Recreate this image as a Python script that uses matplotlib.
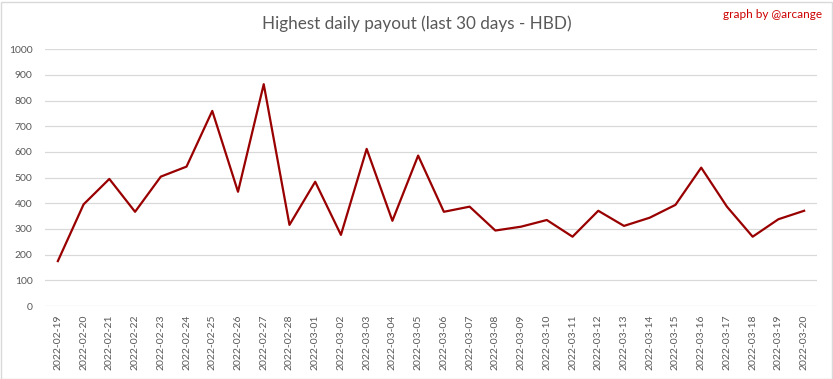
import matplotlib.pyplot as plt
import matplotlib.patches as patches

dates = ['2022-02-19', '2022-02-20', '2022-02-21', '2022-02-22', '2022-02-23', '2022-02-24',
         '2022-02-25', '2022-02-26', '2022-02-27', '2022-02-28', '2022-03-01', '2022-03-02',
         '2022-03-03', '2022-03-04', '2022-03-05', '2022-03-06', '2022-03-07', '2022-03-08',
         '2022-03-09', '2022-03-10', '2022-03-11', '2022-03-12', '2022-03-13', '2022-03-14',
         '2022-03-15', '2022-03-16', '2022-03-17', '2022-03-18', '2022-03-19', '2022-03-20']
payout = [175, 396, 495, 367, 504, 543, 760, 445, 864, 316, 484, 277, 612, 332, 586,
          367, 387, 294, 309, 335, 270, 371, 312, 344, 394, 539, 387, 270, 338, 371]
y_ticks = list(range(0, 1001, 100))

plt.rcParams['font.family'] = ['Lato', 'DejaVu Sans']

fig = plt.figure(figsize=(8.33, 3.79), dpi=100)
ax = fig.add_axes([45 / 833, 1 - 306 / 379, (817 - 45) / 833, (306 - 49.3) / 379])

x = list(range(len(dates)))
ax.plot(x, payout, color='#990000', linewidth=1.6, zorder=3)

ax.set_xlim(-0.5, len(dates) - 0.5)
ax.set_ylim(0, 1000)
ax.set_yticks(y_ticks)
ax.set_xticks(x)
ax.set_xticklabels(dates, rotation=90)
ax.tick_params(axis='both', length=0, labelsize=7.5, colors='#595959')
ax.tick_params(axis='y', pad=9)
ax.tick_params(axis='x', pad=6)
ax.grid(axis='y', color='#d9d9d9', linewidth=0.9)
for side in ['top', 'right', 'left', 'bottom']:
    ax.spines[side].set_visible(False)

fig.text(0.5, 1 - 24 / 379, 'Highest daily payout (last 30 days - HBD)', ha='center', va='center',
         fontsize=12.3, color='#595959')
fig.text(822 / 833, 1 - 15 / 379, 'graph by @arcange', ha='right', va='center',
         fontsize=8.5, color='#cc0000')

border = patches.Rectangle((0.5 / 833, 0.5 / 379), 831 / 833, 377 / 379, transform=fig.transFigure,
                           fill=False, edgecolor='#d9d9d9', linewidth=1)
fig.patches.append(border)

fig.savefig('out.png', dpi=100)
